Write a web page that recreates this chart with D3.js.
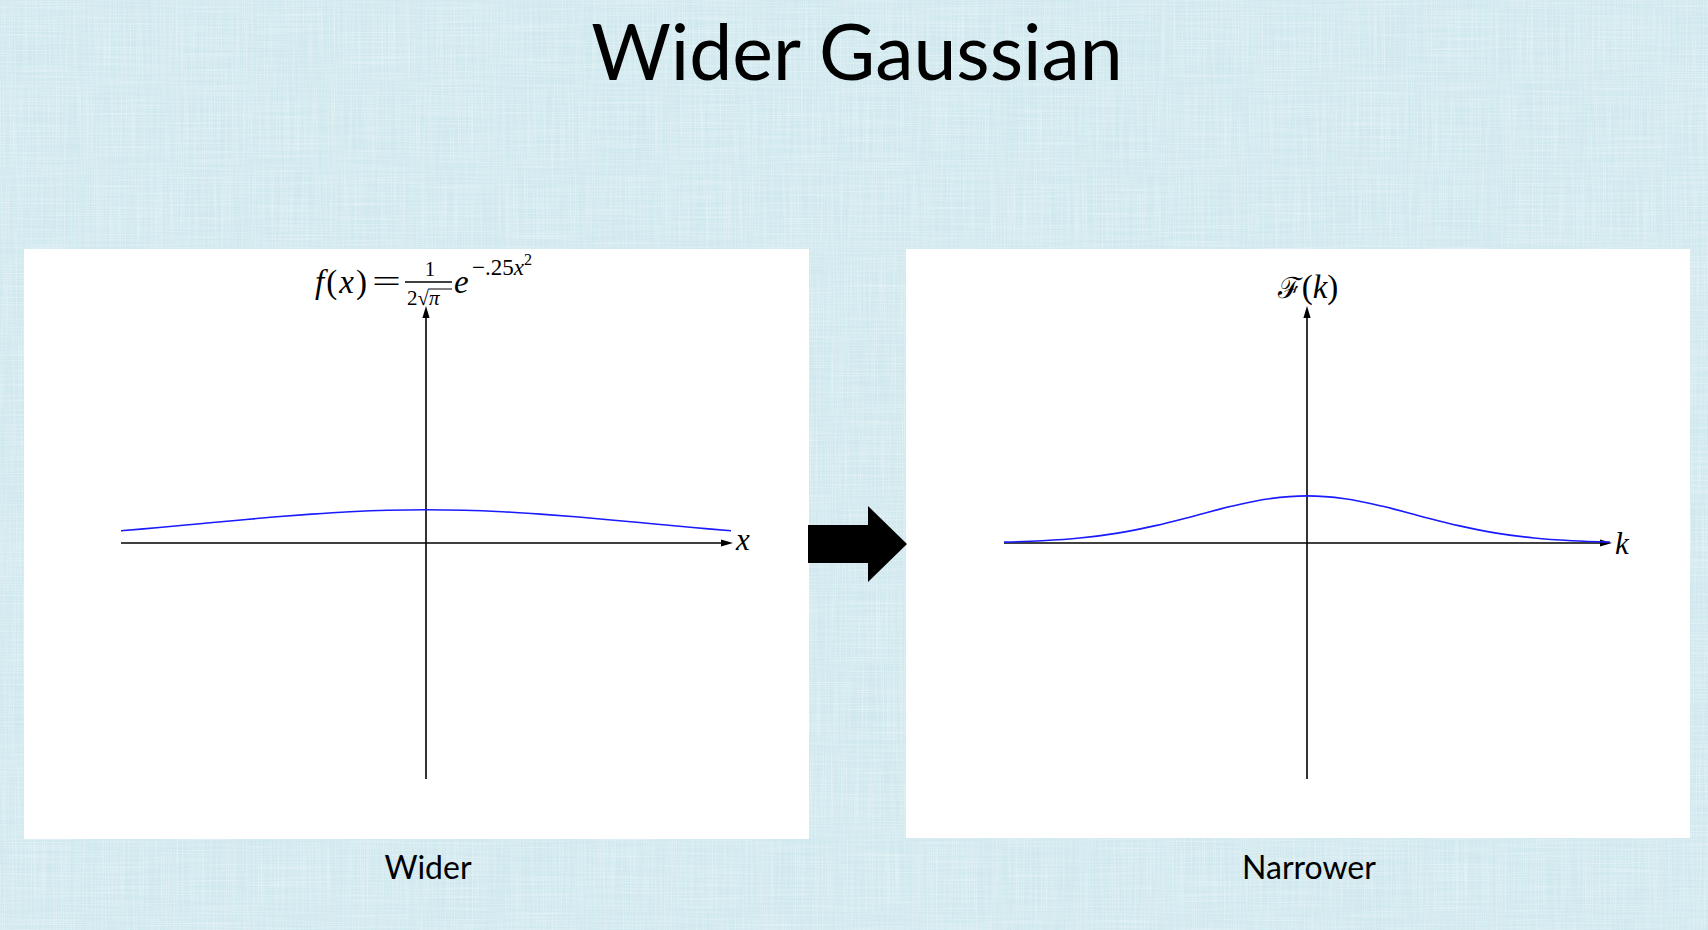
<!DOCTYPE html>
<html>
<head>
<meta charset="utf-8">
<title>Wider Gaussian</title>
<script src="https://cdn.jsdelivr.net/npm/d3@7"></script>
<style>
  html, body { margin: 0; padding: 0; background: #d5ecf1; }
  svg { display: block; }
  .math { font-family: "Liberation Serif", "DejaVu Serif", serif; fill: #000; }
  .label { font-family: Lato, "Open Sans", sans-serif; fill: #000; }
</style>
</head>
<body>
<div id="slide"></div>
<script>
// sample points (same abscissas for x and k)
var xs = [-2, -1.75, -1.5, -1.25, -1, -0.75, -0.5, -0.25, 0, 0.25, 0.5, 0.75, 1, 1.25, 1.5, 1.75, 2];
var fVals = [0.104, 0.131, 0.161, 0.191, 0.220, 0.245, 0.265, 0.278, 0.282, 0.278, 0.265, 0.245, 0.220, 0.191, 0.161, 0.131, 0.104];
var ks = [-2, -1.75, -1.5, -1.25, -1, -0.75, -0.5, -0.25, 0, 0.25, 0.5, 0.75, 1, 1.25, 1.5, 1.75, 2];
var FVals = [0.007, 0.019, 0.042, 0.084, 0.147, 0.227, 0.311, 0.375, 0.399, 0.375, 0.311, 0.227, 0.147, 0.084, 0.042, 0.019, 0.007];
var xDomain = [-2, 2];
var yDomain = [-2, 2];
var captions = ["Wider", "Narrower"];
var titleText = "Wider Gaussian";

var W = 1708, H = 930;

var svg = d3.select("#slide").append("svg")
  .attr("width", W)
  .attr("height", H);

// canvas-like background texture
var defs = svg.append("defs");
var f1 = defs.append("filter").attr("id", "weave")
  .attr("x", 0).attr("y", 0).attr("width", "100%").attr("height", "100%");
f1.append("feTurbulence").attr("type", "fractalNoise")
  .attr("baseFrequency", "0.9 0.012").attr("numOctaves", 2).attr("seed", 3).attr("result", "v");
f1.append("feColorMatrix").attr("in", "v").attr("type", "matrix")
  .attr("values", "0 0 0 0 1  0 0 0 0 1  0 0 0 0 1  1.1 0 0 0 -0.45").attr("result", "va");
f1.append("feTurbulence").attr("type", "fractalNoise")
  .attr("baseFrequency", "0.012 0.9").attr("numOctaves", 2).attr("seed", 7).attr("result", "h");
f1.append("feColorMatrix").attr("in", "h").attr("type", "matrix")
  .attr("values", "0 0 0 0 1  0 0 0 0 1  0 0 0 0 1  1.1 0 0 0 -0.45").attr("result", "ha");
var merge = f1.append("feMerge");
merge.append("feMergeNode").attr("in", "va");
merge.append("feMergeNode").attr("in", "ha");

svg.append("rect").attr("width", W).attr("height", H).attr("fill", "#cfe8ee");
svg.append("rect").attr("width", W).attr("height", H).attr("filter", "url(#weave)").attr("opacity", 0.7);

// title
svg.append("text")
  .attr("class", "label")
  .attr("x", 857).attr("y", 80)
  .attr("text-anchor", "middle")
  .attr("font-size", 77)
  .text(titleText);

// the two white panels
var panels = [
  {left: 24, top: 249, width: 785, height: 590, xs: xs, ys: fVals, range: [97, 707]},
  {left: 906, top: 249, width: 784, height: 589, xs: ks, ys: FVals, range: [98, 704]}
];

panels.forEach(function(p, i) {
  var g = svg.append("g").attr("transform", "translate(" + p.left + "," + p.top + ")");

  g.append("rect")
    .attr("width", p.width)
    .attr("height", p.height)
    .attr("fill", "#fff");

  var x = d3.scaleLinear().domain(xDomain).range(p.range);
  var y = d3.scaleLinear().domain(yDomain).range([530, 58]);

  // horizontal axis
  g.append("line")
    .attr("x1", x(xDomain[0])).attr("x2", x(xDomain[1]) - 6)
    .attr("y1", y(0)).attr("y2", y(0))
    .attr("stroke", "#000").attr("stroke-width", 1.6);
  g.append("path")
    .attr("d", "M" + (x(xDomain[1]) + 2) + "," + y(0) +
               "L" + (x(xDomain[1]) - 10) + "," + (y(0) - 3.6) +
               "L" + (x(xDomain[1]) - 10) + "," + (y(0) + 3.6) + "Z")
    .attr("fill", "#000");

  // vertical axis
  g.append("line")
    .attr("x1", x(0)).attr("x2", x(0))
    .attr("y1", y(yDomain[0])).attr("y2", y(yDomain[1]) + 6)
    .attr("stroke", "#000").attr("stroke-width", 1.6);
  g.append("path")
    .attr("d", "M" + x(0) + "," + (y(yDomain[1]) - 1) +
               "L" + (x(0) - 3.6) + "," + (y(yDomain[1]) + 11) +
               "L" + (x(0) + 3.6) + "," + (y(yDomain[1]) + 11) + "Z")
    .attr("fill", "#000");

  // gaussian curve
  var line = d3.line()
    .x(function(d, j) { return x(p.xs[j]); })
    .y(function(d) { return y(d); })
    .curve(d3.curveCatmullRom);

  g.append("path")
    .datum(p.ys)
    .attr("d", line)
    .attr("fill", "none")
    .attr("stroke", "#1a1aff")
    .attr("stroke-width", 1.6);

  // axis variable
  g.append("text")
    .attr("class", "math")
    .attr("x", x(xDomain[1]) + 5)
    .attr("y", y(0) + (i === 0 ? 7 : 11))
    .attr("font-size", 31)
    .attr("font-style", "italic")
    .text(i === 0 ? "x" : "k");

  // caption under the panel
  svg.append("text")
    .attr("class", "label")
    .attr("x", p.left + x(0) + 2)
    .attr("y", 879)
    .attr("text-anchor", "middle")
    .attr("font-size", 32)
    .text(captions[i]);
});

// formula over the left plot:  f(x) = 1/(2 sqrt(pi)) e^{-.25x^2}
var fx = svg.append("text").attr("class", "math").attr("x", 315).attr("y", 293)
  .attr("font-size", 33)
  .attr("textLength", 52).attr("lengthAdjust", "spacing");
fx.append("tspan").attr("font-style", "italic").text("f");
fx.append("tspan").text("(");
fx.append("tspan").attr("font-style", "italic").text("x");
fx.append("tspan").text(")");

svg.append("text").attr("class", "math")
  .attr("x", 372).attr("y", 292)
  .attr("font-size", 31)
  .attr("textLength", 29).attr("lengthAdjust", "spacingAndGlyphs")
  .text("=");

svg.append("text").attr("class", "math")
  .attr("x", 430).attr("y", 276)
  .attr("text-anchor", "middle")
  .attr("font-size", 21)
  .text("1");
svg.append("line")
  .attr("x1", 405).attr("x2", 452).attr("y1", 282).attr("y2", 282)
  .attr("stroke", "#000").attr("stroke-width", 1.3);
var den = svg.append("text").attr("class", "math").attr("x", 407).attr("y", 305).attr("font-size", 21);
den.append("tspan").text("2");
den.append("tspan").text("\u221A");
den.append("tspan").attr("font-style", "italic").text("\u03C0");
svg.append("line")
  .attr("x1", 429).attr("x2", 452).attr("y1", 289).attr("y2", 289)
  .attr("stroke", "#000").attr("stroke-width", 1);

svg.append("text").attr("class", "math")
  .attr("x", 454).attr("y", 293)
  .attr("font-size", 33)
  .attr("font-style", "italic")
  .text("e");
var ex = svg.append("text").attr("class", "math").attr("x", 472).attr("y", 275).attr("font-size", 23);
ex.append("tspan").text("\u2212.25");
ex.append("tspan").attr("font-style", "italic").text("x");
ex.append("tspan").attr("dy", -10).attr("font-size", 16).text("2");

// label over the right plot
var Fk = svg.append("text").attr("class", "math")
  .attr("x", 1308).attr("y", 298)
  .attr("text-anchor", "middle")
  .attr("font-size", 33);
Fk.append("tspan").attr("font-family", "DejaVu Serif, serif").attr("font-size", 29).text("\u2131");
Fk.append("tspan").text("(");
Fk.append("tspan").attr("font-style", "italic").text("k");
Fk.append("tspan").text(")");

// block arrow between the panels
svg.append("path")
  .attr("d", "M808,525 L868,525 L868,506 L907,544 L868,582 L868,563 L808,563 Z")
  .attr("fill", "#000");
</script>
</body>
</html>
